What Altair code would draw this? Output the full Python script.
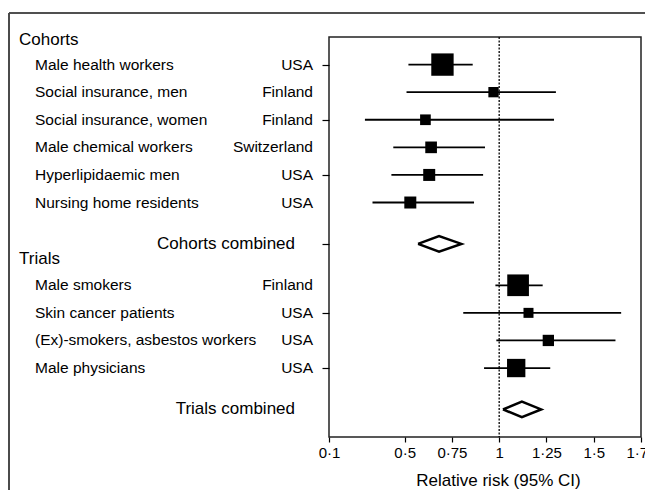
import altair as alt
import pandas as pd

# ---- data ----
names = ["Male health workers", "Social insurance, men", "Social insurance, women",
         "Male chemical workers", "Hyperlipidaemic men", "Nursing home residents",
         "Male smokers", "Skin cancer patients", "(Ex)-smokers, asbestos workers",
         "Male physicians"]
countries = ["USA", "Finland", "Finland", "Switzerland", "USA", "USA",
             "Finland", "USA", "USA", "USA"]
rr = [0.70, 0.97, 0.61, 0.64, 0.63, 0.53, 1.10, 1.155, 1.26, 1.09]
lo = [0.52, 0.51, 0.29, 0.44, 0.43, 0.33, 0.98, 0.81, 0.985, 0.92]
hi = [0.86, 1.30, 1.29, 0.925, 0.915, 0.867, 1.23, 1.645, 1.615, 1.27]
weight = [25.0, 5.3, 5.7, 6.8, 7.2, 7.2, 23.5, 5.0, 6.4, 16.8]
rows = [1, 2, 3, 4, 5, 6, 9, 10, 11, 12]

combined_labels = ["Cohorts combined", "Trials combined"]
combined_rr = [0.682, 1.12]
combined_lo = [0.571, 1.02]
combined_hi = [0.80, 1.222]
combined_rows = [7.5, 13.5]

group_labels = ["Cohorts", "Trials"]
group_rows = [0.1, 8.05]

tick_values = [0.1, 0.5, 0.75, 1, 1.25, 1.5, 1.75]
ref_value = [1]

DIAMOND_HALF = 0.28  # half-height of the pooled-estimate diamond, in row units

# ---- tables ----
studies = pd.DataFrame({"name": names, "country": countries, "rr": rr,
                        "lo": lo, "hi": hi, "weight": weight, "row": rows})
pooled = pd.DataFrame({"label": combined_labels, "rr": combined_rr,
                       "lo": combined_lo, "hi": combined_hi, "row": combined_rows})
groups = pd.DataFrame({"label": group_labels, "row": group_rows})

poly = []
for i, r in pooled.iterrows():
    pts = [(r.lo, r.row), (r.rr, r.row - DIAMOND_HALF), (r.hi, r.row),
           (r.rr, r.row + DIAMOND_HALF), (r.lo, r.row)]
    for k, (px, py) in enumerate(pts):
        poly.append({"id": r.label, "ord": k, "x": px, "y": py})
diamonds = pd.DataFrame(poly)
ref = pd.DataFrame({"x": ref_value})

W, H = 312, 400
FONT = "Liberation Sans"

xscale = alt.Scale(domain=[0.1, 1.75], nice=False, zero=False)
yscale = alt.Scale(domain=[0, 14.5], reverse=True, nice=False, zero=False)

xaxis = alt.Axis(values=tick_values, title="Relative risk (95% CI)",
                 labelExpr="replace(toString(datum.value), '.', '·')",
                 labelFlush=False, labelOverlap=False, grid=False, domain=False,
                 tickSize=5, tickColor="black", tickWidth=1.2,
                 labelFontSize=15, labelColor="black", labelPadding=3,
                 titleFontSize=17, titleFontWeight="normal", titleColor="black",
                 titleX=169, titleY=43, titleBaseline="middle", titleAlign="center")
yaxis = alt.Axis(values=rows + combined_rows, labels=False, title=None, grid=False,
                 domain=False, tickSize=7, tickColor="black", tickWidth=1.2)

base_y = alt.Y("row:Q", scale=yscale, axis=yaxis)

ci = alt.Chart(studies).mark_rule(color="black", strokeWidth=1.8).encode(
    x=alt.X("lo:Q", scale=xscale, axis=xaxis),
    x2="hi:Q",
    y=base_y,
)

squares = alt.Chart(studies).mark_square(color="black", opacity=1).encode(
    x=alt.X("rr:Q", scale=xscale),
    y=alt.Y("row:Q", scale=yscale),
    size=alt.Size("weight:Q", scale=alt.Scale(domain=[0, 25], range=[0, 500]),
                  legend=None),
)

refline = alt.Chart(ref).mark_rule(color="black", strokeWidth=1.3,
                                   strokeDash=[2, 1.5]).encode(
    x=alt.X("x:Q", scale=xscale),
)

dia = alt.Chart(diamonds).mark_line(color="black", strokeWidth=2.5,
                                    strokeJoin="miter").encode(
    x=alt.X("x:Q", scale=xscale),
    y=alt.Y("y:Q", scale=yscale),
    detail="id:N",
    order="ord:Q",
)

name_text = alt.Chart(studies).mark_text(align="left", baseline="middle",
                                         font=FONT, fontSize=15.5, color="black").encode(
    x=alt.value(-294), y=alt.Y("row:Q", scale=yscale), text="name:N")
country_text = alt.Chart(studies).mark_text(align="right", baseline="middle",
                                            font=FONT, fontSize=15.5, color="black").encode(
    x=alt.value(-16), y=alt.Y("row:Q", scale=yscale), text="country:N")
pooled_text = alt.Chart(pooled).mark_text(align="right", baseline="middle",
                                          font=FONT, fontSize=17, color="black").encode(
    x=alt.value(-34), y=alt.Y("row:Q", scale=yscale), text="label:N")
group_text = alt.Chart(groups).mark_text(align="left", baseline="middle",
                                         font=FONT, fontSize=17, color="black").encode(
    x=alt.value(-310), y=alt.Y("row:Q", scale=yscale), text="label:N")

# outer frame (decorative border of the figure)
frame_left = alt.Chart(groups).mark_rule(color="#444", strokeWidth=1.6).encode(
    x=alt.value(-320), y=alt.value(-24), y2=alt.value(470))
frame_top = alt.Chart(groups).mark_rule(color="#444", strokeWidth=1.6).encode(
    x=alt.value(-320), x2=alt.value(340), y=alt.value(-24))

chart = alt.layer(
    frame_left, frame_top, refline, ci, squares, dia,
    name_text, country_text, pooled_text, group_text,
).properties(
    width=W, height=H,
    autosize=alt.AutoSizeParams(type="none"),
    padding={"left": 321, "top": 29, "right": 4, "bottom": 53},
).configure_view(
    stroke="#222", strokeWidth=1.5
).configure_axis(
    labelFont=FONT, titleFont=FONT
)

chart.save("out.html", embed_options={"renderer": "svg", "actions": False})
